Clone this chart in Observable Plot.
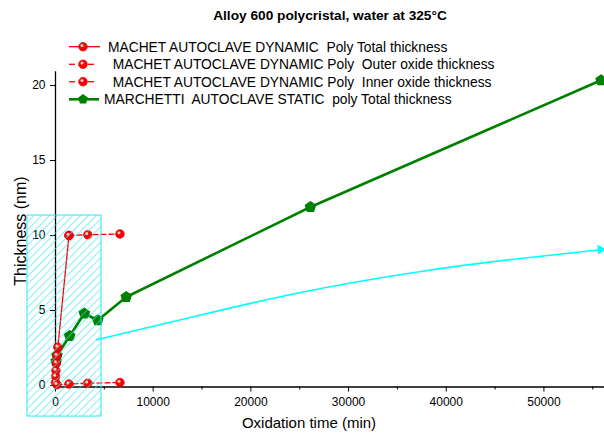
<!DOCTYPE html>
<html><head><meta charset="utf-8">
<script src="https://cdn.jsdelivr.net/npm/d3@7"></script>
<script src="https://cdn.jsdelivr.net/npm/@observablehq/plot@0.6"></script>
<style>
body{margin:0;background:#fff;}
svg{display:block}
</style></head><body><div id="chart"></div>
<script>
const titleText = "Alloy 600 polycristal, water at 325°C";
const xLabel = "Oxidation time (min)";
const yLabel = "Thickness (nm)";
const legendLabels = [
  "MACHET AUTOCLAVE DYNAMIC  Poly Total thickness",
  "MACHET AUTOCLAVE DYNAMIC Poly  Outer oxide thickness",
  "MACHET AUTOCLAVE DYNAMIC Poly  Inner oxide thickness",
  "MARCHETTI  AUTOCLAVE STATIC  poly Total thickness"
];

// MACHET autoclave dynamic (red)
const machetTotalTime = [0, 20, 45, 90, 150, 240, 1380];
const machetTotalThk  = [0.2, 0.6, 1.0, 1.5, 2.0, 2.55, 10.0];
const machetOuterTime = [1380, 3300, 6600];
const machetOuterThk  = [10.0, 10.05, 10.1];
const machetInnerTime = [150, 1380, 3300, 6600];
const machetInnerThk  = [0.05, 0.1, 0.15, 0.2];
// MARCHETTI autoclave static (green)
const marchettiTime = [60, 150, 1450, 2950, 4330, 7240, 26100, 55850];
const marchettiThk  = [1.6, 2.0, 3.3, 4.8, 4.35, 5.9, 11.9, 20.35];
// annotations (cyan)
const hatchTime = [-2870, 4710];
const hatchThk  = [-2.07, 11.33];
const trendTime = [4200, 13800, 25100, 37400, 47600, 56100];
const trendThk  = [3.05, 4.53, 6.2, 7.6, 8.47, 9.07];
// ticks
const xTicks = [0, 10000, 20000, 30000, 40000, 50000];
const xMinorTicks = [5000, 15000, 25000, 35000, 45000, 55000];
const yTicks = [0, 5, 10, 15, 20];

const RED = "#ff0000", GREEN = "#008000", CYAN = "#00ffff", HATCH = "#30e6f2";
const zip = (xs, ys) => xs.map((x, i) => ({x, y: ys[i]}));
const total = zip(machetTotalTime, machetTotalThk);
const outer = zip(machetOuterTime, machetOuterThk);
const inner = zip(machetInnerTime, machetInnerThk);
const marchetti = zip(marchettiTime, marchettiThk);
const trend = zip(trendTime, trendThk);
const trendEnd = trend.slice(-1);
const hatch = [{x1: hatchTime[0], x2: hatchTime[1], y1: hatchThk[0], y2: hatchThk[1]}];

function pentPath(ctx, r) {
  for (let i = 0; i < 5; i++) {
    const a = -Math.PI / 2 + i * 2 * Math.PI / 5;
    const px = r * Math.cos(a), py = r * Math.sin(a);
    i ? ctx.lineTo(px, py) : ctx.moveTo(px, py);
  }
  ctx.closePath();
}
const pentagon = {draw(ctx, size) { pentPath(ctx, Math.sqrt(size / Math.PI) * 1.15); }};

const redBall = (data) => [
  Plot.dot(data, {x: "x", y: "y", r: 4.3, fill: RED, stroke: "#d00000", strokeWidth: 0.7}),
  Plot.dot(data, {x: "x", y: "y", r: 1.5, fill: "#ffd0d0", dx: -1, dy: -1.3})
];

const svg = Plot.plot({
  width: 604, height: 435,
  marginLeft: 55, marginRight: 0, marginTop: 71.5, marginBottom: 48.5,
  style: {fontFamily: "'Liberation Sans', Arial, sans-serif", fontSize: "12px", color: "#000", background: "#fff", overflow: "visible"},
  x: {domain: [0, 56200]},
  y: {domain: [-0.1, 20.9]},
  marks: [
    Plot.axisX({ticks: xTicks, tickSize: 5, tickPadding: 5, tickFormat: d => String(d), label: null}),
    Plot.axisX({ticks: xMinorTicks, tickSize: 3, text: null, label: null}),
    Plot.axisY({ticks: yTicks, tickSize: 5, tickPadding: 5, label: null}),
    Plot.frame({anchor: "bottom", strokeWidth: 1.3}),
    Plot.frame({anchor: "left", strokeWidth: 1.3}),
    Plot.line(marchetti, {x: "x", y: "y", stroke: GREEN, strokeWidth: 2.6}),
    Plot.dot(marchetti, {x: "x", y: "y", symbol: pentagon, r: 4.5, fill: GREEN, stroke: GREEN}),
    Plot.line(total, {x: "x", y: "y", stroke: RED, strokeWidth: 1.3}),
    Plot.line(outer, {x: "x", y: "y", stroke: RED, strokeWidth: 1.3, strokeDasharray: "5,3"}),
    Plot.line(inner, {x: "x", y: "y", stroke: RED, strokeWidth: 1.3, strokeDasharray: "5,3"}),
    ...redBall(total), ...redBall(outer), ...redBall(inner),
    Plot.rect(hatch, {x1: "x1", x2: "x2", y1: "y1", y2: "y2", fill: "url(#hatch)", stroke: HATCH, strokeWidth: 1}),
    Plot.line(trend, {x: "x", y: "y", stroke: CYAN, strokeWidth: 1.6, curve: "natural"}),
    Plot.dot(trendEnd, {x: "x", y: "y", symbol: "triangle", r: 3.6, rotate: 86, fill: CYAN, dx: -3})
  ]
});

const s = d3.select(svg);
const defs = s.insert("defs", ":first-child");
const pat = defs.append("pattern").attr("id", "hatch").attr("patternUnits", "userSpaceOnUse")
  .attr("width", 5.5).attr("height", 5.5).attr("patternTransform", "rotate(45)");
pat.append("line").attr("x1", 0).attr("y1", 0).attr("x2", 0).attr("y2", 5.5)
  .attr("stroke", HATCH).attr("stroke-width", 1.2);

const FONT = "'Liberation Sans', Arial, sans-serif";
// title
s.append("text").attr("x", 330).attr("y", 15).attr("dy", "0.35em").attr("text-anchor", "middle")
  .attr("font-family", FONT).attr("font-weight", "bold").attr("font-size", 13.7).attr("fill", "#000").text(titleText);
// axis labels
s.append("text").attr("x", 309).attr("y", 423).attr("dy", "0.35em").attr("text-anchor", "middle")
  .attr("font-family", FONT).attr("font-size", 15).attr("fill", "#000").text(xLabel);
s.append("text").attr("transform", "translate(20,231) rotate(-90)").attr("dy", "0.35em").attr("text-anchor", "middle")
  .attr("font-family", FONT).attr("font-size", 16).attr("fill", "#000").text(yLabel);

// legend
const rowsY = [46.7, 64.3, 81.7, 99.3];
const textX = [108, 112.7, 112.7, 104];
const lg = s.append("g").attr("text-anchor", "start");
function ball(g, cx, cy) {
  g.append("circle").attr("cx", cx).attr("cy", cy).attr("r", 4.3).attr("fill", RED).attr("stroke", "#d00000").attr("stroke-width", 0.7);
  g.append("circle").attr("cx", cx - 1).attr("cy", cy - 1.3).attr("r", 1.5).attr("fill", "#ffd0d0");
}
legendLabels.forEach((lab, i) => {
  const y = rowsY[i];
  if (i === 0) {
    lg.append("line").attr("x1", 69).attr("x2", 100).attr("y1", y).attr("y2", y).attr("stroke", RED).attr("stroke-width", 1.3);
    ball(lg, 83, y);
  } else if (i < 3) {
    lg.append("line").attr("x1", 69).attr("x2", 75).attr("y1", y).attr("y2", y).attr("stroke", RED).attr("stroke-width", 1.3);
    lg.append("line").attr("x1", 88).attr("x2", 94).attr("y1", y).attr("y2", y).attr("stroke", RED).attr("stroke-width", 1.3);
    ball(lg, 83, y);
  } else {
    lg.append("line").attr("x1", 69).attr("x2", 99).attr("y1", y).attr("y2", y).attr("stroke", GREEN).attr("stroke-width", 2.6);
    const p = d3.path(); pentPath(p, 5.2);
    lg.append("path").attr("d", p.toString()).attr("transform", `translate(83,${y})`).attr("fill", GREEN);
  }
  lg.append("text").attr("x", textX[i]).attr("y", y).attr("dy", "0.35em").attr("text-anchor", "start")
    .attr("font-family", FONT).attr("font-size", 13.8).attr("fill", "#000").text(lab);
});

document.getElementById("chart").appendChild(svg);
</script>
</body></html>
